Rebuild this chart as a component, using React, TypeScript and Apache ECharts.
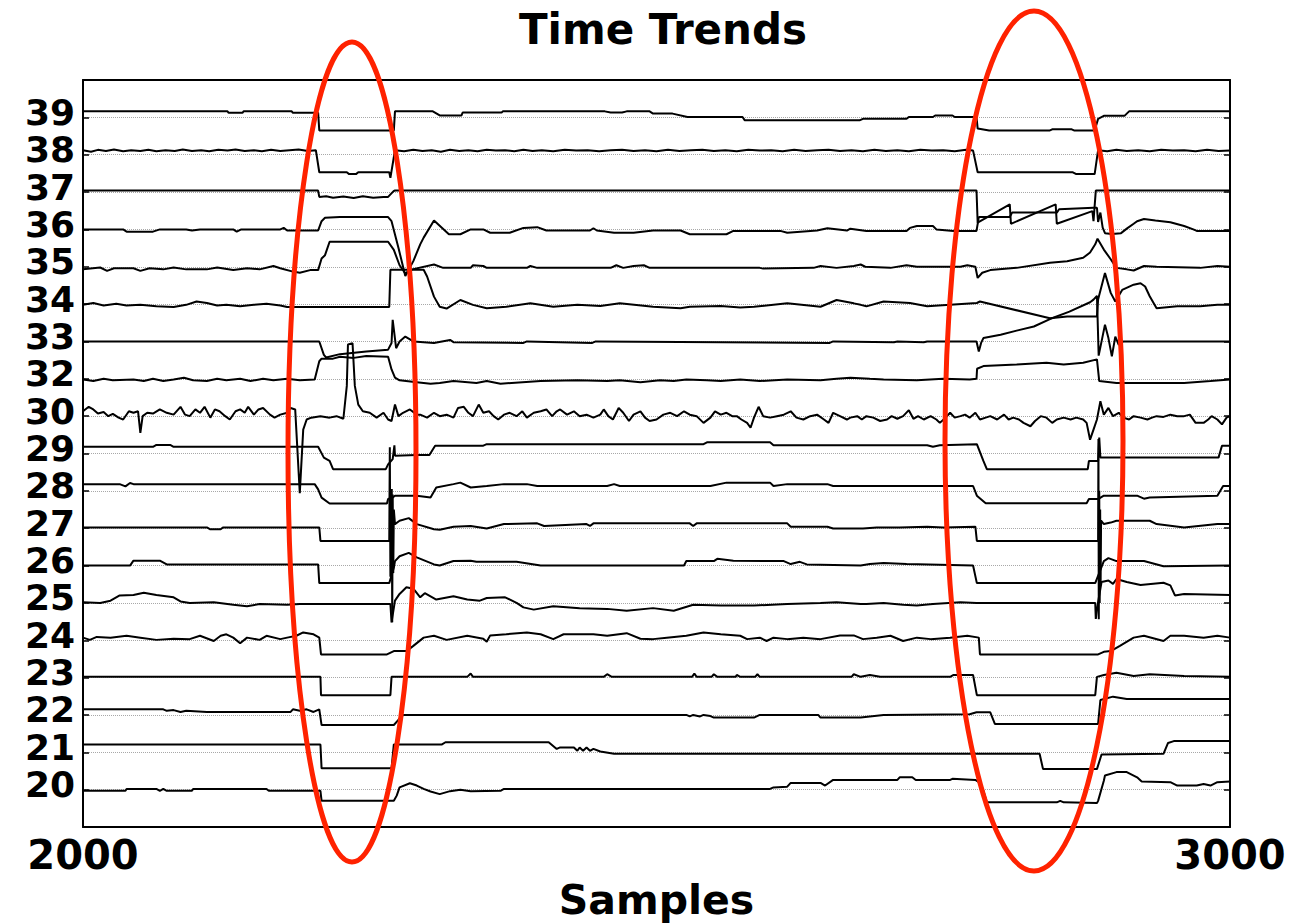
import React, { useEffect, useRef } from "react";
import * as echarts from "echarts";

const yLabels = ["20","21","22","23","24","25","26","27","28","29","30","32","33","34","35","36","37","38","39"];
const xTicks = [2000, 3000];

// Each trace: [sample, deviation from its own baseline level]
const t20 = [[2000,-0.03],[2037,-0.03],[2038,0.02],[2064,0.02],[2067,-0.03],[2070,0.02],[2073,-0.03],[2095,-0.03],[2096,0.02],[2160,0.02],[2162,-0.03],[2207,-0.03],[2208,-0.3],[2271,-0.3],[2273.5,-0.16],[2276,0.06],[2285,0.17],[2291,0.11],[2297,0.02],[2303,-0.05],[2311,-0.12],[2320,-0.04],[2329,0],[2338,-0.04],[2364,-0.03],[2367,0.02],[2599,0.02],[2602,0.06],[2614,0.08],[2617,0.18],[2643,0.18],[2647,0.11],[2654,0.26],[2710,0.26],[2712,0.33],[2723,0.33],[2726,0.26],[2756,0.26],[2758,0.29],[2778,0.26],[2781,0.2],[2785,-0.03],[2788,-0.34],[2849,-0.34],[2852,-0.3],[2855,-0.34],[2884,-0.36],[2885,-0.3],[2890,0.24],[2891,0.38],[2901,0.47],[2910,0.47],[2919,0.33],[2923,0.22],[2948,0.2],[2954,0.11],[2971,0.11],[2977,0.15],[2983,0.11],[2989,0.2],[3000,0.22]];
const t21 = [[2000,0.21],[2207,0.21],[2208,-0.43],[2269,-0.43],[2271,0.21],[2313,0.21],[2316,0.27],[2406,0.27],[2413,0.09],[2416,0.13],[2428,0.13],[2431,0.04],[2433,0.13],[2436,0.04],[2439,0.13],[2442,0.04],[2445,0.09],[2451,0.02],[2463,-0.04],[2834,-0.04],[2837,-0.45],[2884,-0.45],[2888,-0.06],[2942,-0.04],[2946,0.25],[2951,0.3],[3000,0.3]];
const t22 = [[2000,0.15],[2070,0.15],[2073,0.11],[2079,0.13],[2085,0.08],[2090,0.11],[2108,0.08],[2181,0.08],[2183,0.15],[2189,0.11],[2195,0.15],[2201,0.08],[2206,0.15],[2208,-0.27],[2271,-0.27],[2275,-0.13],[2279,0],[2526,0],[2529,-0.04],[2532,0],[2538,-0.04],[2541,0],[2547,-0.03],[2550,-0.07],[2585,-0.07],[2590,0],[2641,0],[2643,-0.07],[2678,-0.07],[2698,0],[2773,0.02],[2779,0.07],[2791,0.07],[2795,-0.24],[2885,-0.24],[2887,0.4],[2898,0.49],[2910,0.43],[3000,0.43]];
const t23 = [[2000,0.02],[2207,0.02],[2207.5,-0.47],[2268,-0.47],[2269,0.02],[2335,0.02],[2338,0.11],[2340,0.02],[2454,0.02],[2457,0.09],[2461,0.02],[2531,0.02],[2533,0.11],[2535,0.02],[2548,0.02],[2550,0.09],[2553,0.02],[2569,0.02],[2570,0.07],[2573,0.02],[2586,0.02],[2588,0.09],[2590,0.02],[2670,0.02],[2672,0.09],[2678,0.02],[2686,0.07],[2695,0.02],[2756,0.02],[2759,0.07],[2776,0.07],[2779.3,-0.47],[2882.5,-0.47],[2884,0.02],[2890,0.07],[2901,0.13],[2916,0.04],[2930,0.09],[2960,0.04],[3000,0.02]];
const t24 = [[2000,0.07],[2006,0.01],[2012,0.09],[2024,0.07],[2038,0.12],[2050,0.07],[2064,0.01],[2079,0.04],[2093,0.03],[2102,0.12],[2114,-0.02],[2120,0.12],[2125,0.16],[2131,0.07],[2137,-0.08],[2143,0.07],[2154,0.01],[2160,0.12],[2172,0.03],[2178,0.07],[2186,0.12],[2192,0.21],[2201,0.16],[2206,0.07],[2207.5,-0.38],[2265,-0.38],[2271,-0.29],[2282,-0.29],[2288,-0.15],[2297,0.07],[2306,0.12],[2317,0.01],[2335,0.12],[2349,0.04],[2352,-0.04],[2355,0.13],[2369,0.16],[2387,0.21],[2399,0.16],[2410,0.03],[2419,0.16],[2445,0.16],[2457,0.12],[2474,0.19],[2486,0.04],[2497,0.03],[2509,0.07],[2526,0.12],[2541,0.21],[2556,0.16],[2573,0.12],[2579,0.03],[2590,0.07],[2596,-0.02],[2602,0.07],[2614,0.03],[2628,0.07],[2643,0.03],[2660,0.13],[2672,0.13],[2680,0.03],[2692,0.07],[2704,0.12],[2715,-0.02],[2727,0.07],[2739,0.03],[2756,0.07],[2771,0.12],[2781,0.07],[2782,-0.38],[2885,-0.38],[2890,-0.31],[2896,-0.29],[2904,-0.15],[2916,0.07],[2925,0.12],[2942,-0.02],[2948,0.12],[2960,0.12],[2977,0.07],[2989,0.12],[3000,0.07]];
const t25 = [[2000,0.02],[2015,0],[2024,0.06],[2032,0.2],[2044,0.21],[2053,0.27],[2064,0.21],[2079,0.15],[2085,0.04],[2093,0],[2114,0.02],[2131,-0.05],[2143,-0.09],[2154,-0.03],[2178,-0.05],[2189,-0.03],[2268,-0.03],[2269,-0.52],[2272,0.06],[2276,0.24],[2282,0.42],[2288,0.38],[2294,0.15],[2298,0.26],[2308,0.09],[2323,0.18],[2335,0.09],[2346,0.06],[2352,0.13],[2368,0.15],[2378,0],[2384,-0.12],[2393,-0.18],[2410,-0.09],[2433,-0.14],[2457,-0.16],[2474,-0.21],[2497,-0.14],[2515,-0.21],[2532,-0.05],[2556,-0.07],[2585,-0.07],[2614,-0.03],[2643,0],[2657,0.02],[2678,-0.03],[2683,-0.03],[2698,0],[2715,-0.05],[2727,-0.07],[2741,-0.03],[2765,0.02],[2779,0],[2882.5,0],[2883,-0.43],[2885,0.02],[2888,0.56],[2894,0.6],[2898,0.51],[2901,0.64],[2910,0.56],[2922,0.48],[2942,0.54],[2948,0.47],[2952,0.2],[2960,0.24],[3000,0.21]];
const t26 = [[2000,0],[2041,0],[2044,0.13],[2067,0.13],[2073,0.03],[2205,0.03],[2206,-0.47],[2267,-0.47],[2271,-0.06],[2272,0.12],[2276,0.25],[2284,0.34],[2291,0.22],[2306,0.03],[2311,0],[2323,0.12],[2338,0.13],[2343,0.1],[2378,0.1],[2399,0],[2524,0],[2526,0.12],[2550,0.12],[2553,0.18],[2567,0.13],[2611,0.12],[2617,0.04],[2625,0.1],[2631,0.03],[2678,0],[2686,0.04],[2698,0.07],[2718,0.04],[2776,0],[2779.3,-0.47],[2882.5,-0.47],[2890,0.12],[2894,0.2],[2901,0.12],[2925,0.12],[2942,-0.02],[3000,0]];
const t27 = [[2000,0.02],[2108,0.02],[2111,-0.03],[2120,-0.03],[2122,0.02],[2206,0.02],[2207,-0.34],[2267,-0.34],[2267.5,2.17],[2268,-1.3],[2268.4,1.0],[2268.8,-1.37],[2269.2,1.05],[2269.6,-2.52],[2270,0.9],[2270.5,-1.2],[2271,0.5],[2272,0.11],[2276,0.2],[2284,0.27],[2291,0.11],[2306,-0.03],[2311,-0.04],[2323,0.04],[2338,0.06],[2352,-0.01],[2367,0.11],[2396,0.13],[2402,0.06],[2439,0.11],[2442,0.06],[2445,0.13],[2529,0.13],[2532,0.06],[2535,0.13],[2614,0.13],[2617,0.04],[2649,0.04],[2654,-0.01],[2680,-0.01],[2692,0.02],[2712,0.02],[2736,0.04],[2750,0.02],[2778,0.04],[2779.3,-0.34],[2885,-0.34],[2885.3,2.39],[2885.6,-2.44],[2886,1.0],[2886.4,-2.0],[2886.8,0.5],[2887.2,-1.5],[2887.6,0.2],[2890,0.11],[2896,0.15],[2901,0.2],[2930,0.2],[2936,0.11],[2960,0.02],[2989,0.11],[3000,0.11]];
const t28 = [[2000,0.18],[2032,0.18],[2037,0.12],[2041,0.21],[2044,0.18],[2202,0.18],[2205,0.04],[2208,-0.18],[2215,-0.34],[2265,-0.34],[2266,-0.22],[2270,-0.18],[2272,-0.13],[2291,-0.13],[2303,-0.18],[2308,0.09],[2323,0.18],[2329,0.22],[2338,0.09],[2352,0.13],[2367,0.18],[2387,0.18],[2396,0.13],[2457,0.13],[2463,0.18],[2468,0.13],[2547,0.13],[2561,0.22],[2599,0.22],[2602,0.13],[2614,0.18],[2649,0.18],[2654,0.13],[2776,0.13],[2779.3,-0.13],[2787,-0.33],[2875,-0.33],[2877,-0.22],[2885,-0.22],[2890,-0.13],[2919,-0.13],[2925,-0.21],[2930,-0.18],[2989,-0.13],[2994,0.13],[3000,0.13]];
const t29 = [[2000,0.18],[2061,0.18],[2064,0.23],[2076,0.23],[2079,0.18],[2205,0.18],[2210,-0.11],[2215,-0.2],[2218,-0.42],[2264,-0.42],[2266,-0.29],[2270,-0.15],[2271.5,0.22],[2272,-0.06],[2291,-0.04],[2302,-0.04],[2307,0.21],[2349,0.21],[2352,0.25],[2541,0.25],[2544,0.3],[2599,0.3],[2602,0.22],[2736,0.22],[2741,0.18],[2747,0.22],[2779.3,0.25],[2785,-0.2],[2788,-0.42],[2876,-0.42],[2877,-0.2],[2885,-0.2],[2886,0.43],[2887,-0.11],[2990,-0.11],[2993,0.21],[3000,0.21]];
const t30 = [[2000,0.13],[2005,0.25],[2009,0.18],[2013,0.07],[2018,0.11],[2022,0],[2026,0.06],[2031,-0.04],[2035,-0.09],[2040,0.13],[2044,0.09],[2048,0.13],[2050,-0.45],[2052,0],[2056,0.09],[2061,0.07],[2067,0.18],[2073,0.09],[2079,0.04],[2085,0.25],[2089,0.04],[2093,0],[2098,0.18],[2102,0.09],[2106,0.25],[2111,-0.04],[2115,0.18],[2119,0.13],[2124,0],[2128,-0.09],[2133,0.13],[2137,0.18],[2141,0.09],[2144,0.25],[2149,0.04],[2153,0.18],[2157,0.22],[2163,0.04],[2167,-0.04],[2172,0.04],[2178,0.09],[2181,0.22],[2185,0.18],[2189,-2.06],[2192,-0.36],[2195,-0.09],[2199,-0.04],[2207,0],[2215,-0.04],[2221,0],[2227,-0.07],[2230,0.81],[2231,1.92],[2235,1.95],[2237,0.81],[2240,0.31],[2244,0.13],[2250,0.09],[2256,-0.04],[2262,0.09],[2266,-0.09],[2269,-0.13],[2272,0.31],[2275,0],[2279,0.09],[2285,0.18],[2291,0.04],[2294,0.04],[2300,-0.04],[2306,0.09],[2311,0],[2317,0.04],[2323,-0.04],[2327,0.22],[2332,0.25],[2336,0.09],[2340,0],[2345,0.31],[2349,0.09],[2354,0.13],[2358,0],[2362,-0.09],[2367,0.04],[2372,0.09],[2378,0],[2383,0.13],[2387,-0.04],[2393,0.09],[2399,0.13],[2404,0.18],[2409,0],[2413,0.13],[2416,0.18],[2422,0.04],[2428,0.13],[2433,0],[2439,0.04],[2445,-0.04],[2451,0.04],[2454,0.18],[2458,0],[2462,-0.09],[2467,0.22],[2471,0.09],[2476,-0.13],[2480,0.04],[2486,0.13],[2490,-0.04],[2494,-0.13],[2500,-0.09],[2506,0.04],[2512,0.09],[2518,0],[2524,0.13],[2529,0.04],[2535,0],[2541,-0.18],[2547,-0.04],[2551,0.13],[2556,0.04],[2561,0.09],[2566,0],[2570,0],[2574,-0.09],[2579,-0.18],[2582,-0.31],[2585,-0.04],[2589,0.25],[2593,0],[2599,-0.04],[2605,0],[2611,0.04],[2617,0.13],[2622,-0.04],[2628,-0.09],[2634,0],[2640,0.04],[2646,-0.09],[2650,-0.18],[2654,0.09],[2660,0],[2666,-0.09],[2669,-0.04],[2675,0],[2679,-0.09],[2683,0],[2689,-0.04],[2695,-0.13],[2701,-0.09],[2705,0],[2710,-0.07],[2715,0],[2720,0.16],[2724,-0.07],[2728,0],[2733,-0.09],[2739,0],[2744,-0.09],[2747,-0.18],[2752,-0.04],[2756,0.09],[2760,-0.04],[2765,0],[2769,0.04],[2773,-0.04],[2778,0.09],[2782,-0.09],[2787,-0.04],[2791,0],[2797,-0.09],[2803,0.04],[2807,-0.09],[2811,-0.04],[2816,-0.09],[2820,-0.18],[2826,-0.27],[2830,-0.13],[2835,0],[2840,-0.04],[2845,-0.18],[2849,-0.09],[2855,-0.04],[2861,-0.09],[2866,-0.04],[2872,-0.09],[2875,-0.18],[2878,-0.63],[2881,-0.36],[2884,-0.09],[2887,0.4],[2890,0.04],[2894,0.22],[2898,0],[2903,0.09],[2907,-0.04],[2912,-0.09],[2916,0],[2922,-0.04],[2928,-0.09],[2932,-0.04],[2936,0],[2942,-0.02],[2948,0.04],[2954,0],[2960,0],[2965,0.04],[2970,-0.18],[2977,-0.18],[2981,-0.09],[2984,0],[2989,-0.09],[2993,-0.22],[2997,-0.04],[3000,0]];
const t32 = [[2000,-0.02],[2009,-0.06],[2018,0],[2026,-0.04],[2044,-0.02],[2053,-0.06],[2061,0],[2070,-0.06],[2079,-0.02],[2088,0.03],[2096,-0.04],[2108,-0.06],[2117,0],[2125,-0.04],[2137,0],[2146,-0.06],[2157,0],[2166,-0.04],[2178,0],[2189,-0.04],[2202,-0.02],[2206,0.47],[2208,0.54],[2218,0.54],[2224,0.59],[2236,0.56],[2247,0.61],[2266,0.59],[2269,0.25],[2272,0.03],[2276,-0.04],[2291,-0.09],[2303,-0.13],[2311,-0.11],[2323,-0.06],[2343,-0.11],[2352,-0.06],[2364,-0.13],[2399,-0.06],[2431,-0.04],[2457,-0.06],[2468,-0.04],[2486,-0.09],[2503,-0.04],[2515,-0.06],[2526,-0.02],[2544,-0.04],[2556,-0.06],[2573,-0.02],[2590,-0.06],[2614,-0.02],[2643,-0.04],[2657,0],[2669,0.03],[2686,0],[2698,-0.02],[2727,-0.04],[2750,0],[2773,-0.02],[2779,0],[2779.5,0.27],[2785,0.34],[2814,0.38],[2840,0.43],[2855,0.38],[2872,0.43],[2884,0.52],[2886,-0.06],[2901,-0.11],[2960,-0.11],[2983,-0.06],[3000,-0.02]];
const t33 = [[2000,0],[2206,0],[2210,-0.36],[2212,-0.43],[2224,-0.34],[2247,-0.27],[2266,-0.22],[2269,-0.04],[2270,0.58],[2273,-0.18],[2276,0],[2281,0.13],[2288,0],[2306,-0.04],[2320,0.04],[2323,-0.02],[2384,-0.04],[2387,0],[2444,-0.04],[2447,0],[2651,-0.04],[2654,0],[2707,-0.02],[2710,0],[2733,-0.02],[2736,0],[2779,0],[2781,-0.27],[2783,-0.04],[2785,0.09],[2800,0.18],[2814,0.29],[2829,0.4],[2843,0.6],[2860,0.8],[2878,1.05],[2881,1.12],[2884,1.22],[2885.5,-0.38],[2891,0.45],[2894,0.09],[2897,-0.4],[2900,0.13],[2903,-0.09],[2907,0],[3000,0]];
const t34 = [[2000,-0.02],[2009,0.03],[2018,-0.04],[2029,0.01],[2038,-0.04],[2050,-0.02],[2064,-0.06],[2079,-0.08],[2090,-0.02],[2099,0.07],[2108,0.03],[2117,-0.04],[2125,-0.02],[2137,-0.06],[2149,-0.02],[2160,0.01],[2172,-0.04],[2178,-0.08],[2267,-0.08],[2268,0.92],[2297,0.92],[2300,0.74],[2306,0.2],[2311,-0.07],[2317,-0.12],[2329,0.11],[2340,-0.02],[2352,-0.11],[2369,-0.07],[2390,0.02],[2410,-0.07],[2431,-0.02],[2451,-0.05],[2468,0.02],[2497,-0.07],[2521,-0.11],[2529,-0.07],[2556,-0.05],[2573,-0.09],[2585,-0.07],[2614,0.02],[2643,-0.07],[2657,0.11],[2672,0.02],[2678,-0.02],[2683,-0.06],[2698,0.07],[2721,0.03],[2736,-0.06],[2756,-0.02],[2779.3,0.03],[2782,0.07],[2843,-0.38],[2858,-0.33],[2884,-0.33],[2885,0.12],[2891,0.83],[2896,0.3],[2900,0.07],[2906,0.38],[2916,0.52],[2922,0.56],[2926,0.47],[2930,0.21],[2936,-0.11],[2954,-0.06],[2974,-0.06],[2989,-0.02],[3000,-0.02]];
const t35 = [[2000,-0.07],[2015,-0.02],[2021,-0.11],[2027,-0.04],[2044,-0.04],[2050,-0.11],[2058,-0.04],[2070,-0.07],[2079,-0.02],[2090,-0.07],[2108,-0.07],[2117,-0.02],[2131,-0.09],[2143,-0.04],[2154,-0.07],[2166,0.02],[2172,-0.04],[2183,-0.13],[2189,-0.16],[2198,-0.09],[2205,-0.09],[2208,0.22],[2211,0.31],[2215,0.67],[2266,0.67],[2271,0.45],[2276,0.04],[2281,-0.18],[2287,-0.07],[2306,0.06],[2314,-0.03],[2338,-0.03],[2340,0.04],[2349,0.02],[2352,-0.03],[2387,-0.03],[2390,0.02],[2396,-0.03],[2460,-0.03],[2465,0.04],[2471,-0.03],[2480,0.02],[2489,0.04],[2494,-0.03],[2590,-0.03],[2593,-0.05],[2637,-0.03],[2643,0.02],[2657,-0.03],[2672,0.02],[2678,0.06],[2682,0],[2704,-0.03],[2718,0.04],[2727,0],[2765,0],[2771,0.04],[2778,0],[2780,-0.3],[2784,-0.16],[2791,-0.09],[2814,-0.03],[2843,0.11],[2858,0.15],[2872,0.24],[2878,0.38],[2882.5,0.6],[2884.5,0.75],[2890,0.46],[2896,0.2],[2901,-0.03],[2910,-0.07],[2916,-0.1],[2925,0.02],[2936,0],[2974,-0.03],[2989,0.02],[3000,0]];
const t36 = [[2000,0],[2035,0],[2038,-0.06],[2061,-0.06],[2067,0],[2090,0],[2095,-0.03],[2102,0],[2131,0],[2134,-0.06],[2138,0],[2172,0],[2175,0.04],[2178,-0.03],[2205,-0.03],[2208,0.22],[2211,0.31],[2224,0.33],[2266,0.33],[2269,0.22],[2275,-0.49],[2281,-1.25],[2288,-0.85],[2294,-0.4],[2297,-0.22],[2306,0.24],[2319,-0.13],[2329,-0.13],[2338,0],[2349,0],[2355,-0.09],[2372,-0.09],[2384,0.04],[2396,0.06],[2404,-0.03],[2442,-0.03],[2445,0.03],[2448,-0.03],[2463,-0.09],[2480,-0.09],[2497,-0.03],[2521,-0.03],[2529,-0.13],[2561,-0.13],[2567,-0.04],[2608,-0.04],[2614,-0.09],[2640,-0.03],[2649,0.03],[2666,-0.03],[2669,0.02],[2683,-0.04],[2718,-0.04],[2721,0.04],[2727,0.09],[2741,0.09],[2744,0],[2759,-0.04],[2779,-0.04],[2781,0.33],[2808,0.33],[2810,0.45],[2849,0.45],[2851,0.54],[2881,0.58],[2884,0.58],[2885,0.2],[2887,0.45],[2889,0.05],[2891,-0.1],[2897,-0.12],[2905,-0.1],[2910,0.02],[2916,0.15],[2919,0.22],[2925,0.28],[2935,0.24],[2948,0.19],[2960,0.09],[2968,0],[2971,-0.04],[3000,-0.04]];
const t37 = [[2000,0.04],[2205,0.04],[2206,-0.13],[2212,-0.11],[2218,-0.15],[2227,-0.12],[2236,-0.16],[2244,-0.11],[2253,-0.15],[2262,-0.13],[2266,-0.13],[2271,0.03],[2272,0.04],[2779,0.04],[2780,-0.82],[2808,-0.33],[2809,-0.85],[2848,-0.33],[2849,-0.85],[2880,-0.51],[2881,-0.78],[2883,0.04],[3000,0.04]];
const t38 = [[2000,0.12],[2007,0.08],[2013,0.13],[2020,0.1],[2027,0.14],[2035,0.09],[2042,0.12],[2050,0.1],[2057,0.13],[2064,0.09],[2072,0.12],[2080,0.1],[2087,0.14],[2095,0.1],[2103,0.12],[2110,0.09],[2118,0.13],[2126,0.11],[2133,0.14],[2141,0.1],[2149,0.12],[2156,0.09],[2164,0.13],[2172,0.1],[2180,0.12],[2188,0.14],[2196,0.1],[2203,0.12],[2206,-0.47],[2230,-0.47],[2232,-0.52],[2238,-0.52],[2240,-0.47],[2267,-0.47],[2268,-0.62],[2272,0.12],[2280,0.09],[2288,0.13],[2296,0.1],[2304,0.12],[2312,0.08],[2320,0.13],[2328,0.1],[2336,0.12],[2344,0.09],[2352,0.13],[2360,0.11],[2368,0.12],[2376,0.09],[2384,0.13],[2392,0.1],[2400,0.12],[2410,0.09],[2420,0.13],[2430,0.11],[2440,0.12],[2450,0.09],[2460,0.12],[2470,0.13],[2480,0.1],[2490,0.12],[2500,0.09],[2510,0.13],[2520,0.1],[2530,0.12],[2540,0.13],[2550,0.1],[2560,0.12],[2570,0.09],[2580,0.13],[2590,0.11],[2600,0.12],[2610,0.09],[2620,0.13],[2630,0.1],[2640,0.12],[2650,0.13],[2660,0.1],[2670,0.12],[2680,0.09],[2690,0.13],[2700,0.1],[2710,0.12],[2720,0.09],[2730,0.13],[2740,0.11],[2750,0.12],[2760,0.09],[2770,0.13],[2776,0.11],[2780,-0.47],[2863,-0.47],[2866,-0.52],[2882,-0.52],[2885,0.12],[2893,0.09],[2901,0.13],[2910,0.1],[2920,0.12],[2930,0.09],[2940,0.13],[2950,0.11],[2960,0.12],[2970,0.09],[2980,0.13],[2990,0.1],[3000,0.11]];
const t39 = [[2000,0.16],[2126,0.16],[2127,0.12],[2139,0.12],[2140,0.16],[2182,0.16],[2183,0.12],[2205,0.12],[2206,-0.35],[2271,-0.35],[2272,0.16],[2305,0.16],[2311,0.05],[2330,0.05],[2331,0.13],[2365,0.13],[2366,0.16],[2455,0.16],[2460,0.13],[2470,0.13],[2474,0.16],[2494,0.16],[2497,0.1],[2514,0.1],[2527,0.01],[2575,0.01],[2577,-0.08],[2677,-0.08],[2680,-0.04],[2718,-0.04],[2720,0.01],[2741,0.01],[2743,0.05],[2758,0.05],[2760,0.01],[2779,0.01],[2780,-0.3],[2790,-0.35],[2843,-0.35],[2845,-0.32],[2862,-0.32],[2864,-0.35],[2882,-0.35],[2885,-0.04],[2890,0.04],[2908,0.04],[2912,0.16],[3000,0.16]];

const traces = [t20, t21, t22, t23, t24, t25, t26, t27, t28, t29, t30, t32, t33, t34, t35, t36, t37, t38, t39];

const FONT = "DejaVu Sans";

export default function App() {
  const ref = useRef<HTMLDivElement>(null);
  useEffect(() => {
    document.body.style.margin = "0";
    const chart = echarts.init(ref.current!, null, { renderer: "svg" });
    const axisLine = { show: true, onZero: false, lineStyle: { color: "#000", width: 2 } };
    const tick = { show: true, inside: true, length: 6, lineStyle: { color: "#000", width: 1.5 } };
    const option = {
      animation: false,
      backgroundColor: "#fff",
      title: {
        text: "Time Trends",
        left: 658,
        top: 3,
        textAlign: "center",
        textStyle: { fontFamily: FONT, fontWeight: "bold", fontSize: 42, color: "#000" },
      },
      grid: { left: 83, right: 61, top: 80, bottom: 96, containLabel: false, outerBoundsMode: "none" },
      xAxis: [
        {
          type: "value", min: xTicks[0], max: xTicks[1], interval: xTicks[1] - xTicks[0], position: "bottom",
          axisLine, axisTick: tick,
          axisLabel: {
            fontFamily: FONT, fontWeight: "bold", fontSize: 40, color: "#000", margin: 8,
            showMinLabel: true, showMaxLabel: true,
            formatter: (v: number) => String(Math.round(v)),
          },
          splitLine: { show: false },
          name: "Samples", nameLocation: "middle", nameGap: 40,
          nameTextStyle: { fontFamily: FONT, fontWeight: "bold", fontSize: 41, color: "#000" },
        },
        {
          type: "value", min: xTicks[0], max: xTicks[1], interval: xTicks[1] - xTicks[0], position: "top",
          axisLine, axisTick: tick, axisLabel: { show: false }, splitLine: { show: false },
        },
      ],
      yAxis: [
        {
          type: "value", min: -1, max: 19, interval: 1, position: "left",
          axisLine, axisTick: tick,
          axisLabel: {
            fontFamily: FONT, fontWeight: "bold", fontSize: 36, color: "#000", margin: 8,
            lineHeight: 10,
            verticalAlign: "bottom",
            formatter: (v: number) => {
              const i = Math.round(v);
              return i >= 0 && i < yLabels.length ? yLabels[i] : "";
            },
          },
          splitLine: { show: true, lineStyle: { color: "#a8a8a8", type: "dotted", width: 1 } },
        },
        {
          type: "value", min: -1, max: 19, interval: 1, position: "right",
          axisLine, axisTick: tick, axisLabel: { show: false }, splitLine: { show: false },
        },
      ],
      series: traces.map((t, i) => ({
        type: "line",
        xAxisIndex: 0,
        yAxisIndex: 0,
        data: t.map((p) => [p[0], i + p[1]]),
        symbol: "none",
        showSymbol: false,
        silent: true,
        lineStyle: { color: "#000", width: 2 },
        z: 3,
      })),
      graphic: [
        { type: "ellipse", shape: { cx: 352, cy: 452, rx: 64, ry: 410 }, style: { fill: "none", stroke: "#ff2200", lineWidth: 5 }, z: 100, silent: true },
        { type: "ellipse", shape: { cx: 1034, cy: 441, rx: 89, ry: 430 }, style: { fill: "none", stroke: "#ff2200", lineWidth: 5 }, z: 100, silent: true },
      ],
    };
    chart.setOption(option as any);
    return () => chart.dispose();
  }, []);
  return <div ref={ref} style={{ width: 1291, height: 923 }} />;
}
